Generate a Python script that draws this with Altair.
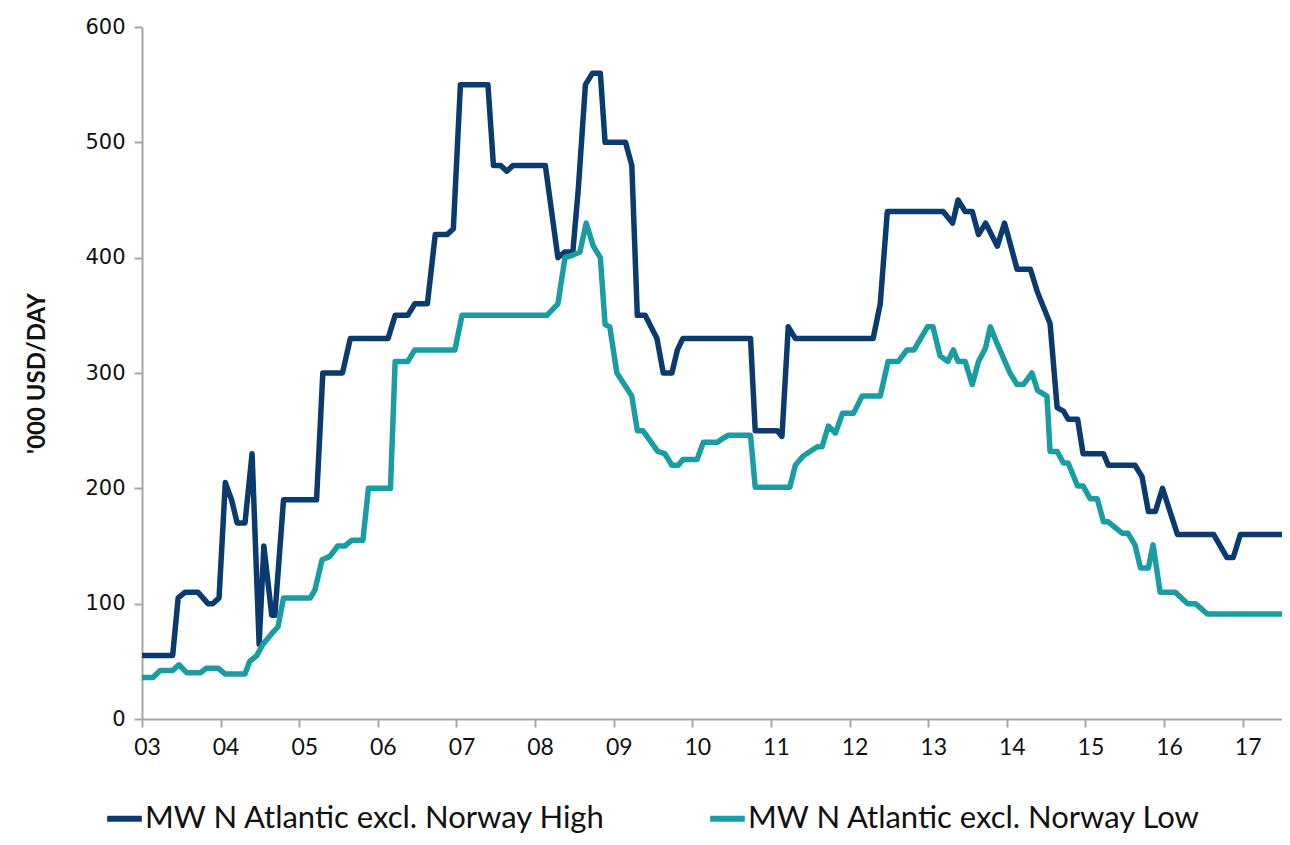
import altair as alt
import pandas as pd

# ---- data (x: decimal year, y: '000 USD/day) ----
high_years = [2003.00, 2003.39, 2003.46, 2003.55, 2003.71, 2003.84, 2003.90, 2003.98,
              2004.06, 2004.14, 2004.21, 2004.31, 2004.40, 2004.49, 2004.55, 2004.65,
              2004.69, 2004.80, 2005.22, 2005.30, 2005.55, 2005.65, 2006.13, 2006.22,
              2006.38, 2006.47, 2006.63, 2006.73, 2006.88, 2006.96, 2007.05, 2007.40,
              2007.47, 2007.56, 2007.64, 2007.72, 2008.13, 2008.29, 2008.38, 2008.48,
              2008.55, 2008.64, 2008.73, 2008.83, 2008.89, 2009.15, 2009.23, 2009.30,
              2009.40, 2009.55, 2009.63, 2009.74, 2009.81, 2009.88, 2010.74, 2010.80,
              2011.08, 2011.14, 2011.22, 2011.31, 2012.30, 2012.39, 2012.48, 2013.19,
              2013.31, 2013.38, 2013.47, 2013.56, 2013.64, 2013.73, 2013.88, 2013.97,
              2014.04, 2014.13, 2014.30, 2014.39, 2014.55, 2014.64, 2014.72, 2014.78,
              2014.90, 2014.97, 2015.23, 2015.29, 2015.63, 2015.72, 2015.80, 2015.89,
              2015.98, 2016.17, 2016.63, 2016.80, 2016.88, 2016.97, 2017.61]
high_values = [55, 55, 105, 110, 110, 100, 100, 105,
               205, 190, 170, 170, 230, 65, 150, 90,
               90, 190, 190, 300, 300, 330, 330, 350,
               350, 360, 360, 420, 420, 425, 550, 550,
               480, 480, 475, 480, 480, 400, 405, 405,
               460, 550, 560, 560, 500, 500, 480, 350,
               350, 330, 300, 300, 320, 330, 330, 250,
               250, 245, 340, 330, 330, 360, 440, 440,
               430, 450, 440, 440, 420, 430, 410, 430,
               413, 390, 390, 370, 343, 270, 267, 260,
               260, 230, 230, 220, 220, 210, 180, 180,
               200, 160, 160, 140, 140, 160, 160]

low_years = [2003.00, 2003.14, 2003.23, 2003.39, 2003.47, 2003.57, 2003.74, 2003.82,
             2003.97, 2004.06, 2004.31, 2004.37, 2004.46, 2004.54, 2004.65, 2004.73,
             2004.80, 2005.14, 2005.20, 2005.29, 2005.39, 2005.49, 2005.58, 2005.67,
             2005.81, 2005.88, 2006.16, 2006.22, 2006.38, 2006.47, 2006.98, 2007.07,
             2008.15, 2008.29, 2008.38, 2008.47, 2008.57, 2008.65, 2008.74, 2008.83,
             2008.89, 2008.95, 2009.04, 2009.23, 2009.30, 2009.37, 2009.56, 2009.65,
             2009.74, 2009.82, 2009.88, 2010.06, 2010.14, 2010.32, 2010.38, 2010.46,
             2010.74, 2010.80, 2011.24, 2011.31, 2011.41, 2011.59, 2011.65, 2011.73,
             2011.82, 2011.91, 2012.05, 2012.16, 2012.39, 2012.49, 2012.62, 2012.73,
             2012.82, 2012.99, 2013.06, 2013.15, 2013.25, 2013.32, 2013.38, 2013.47,
             2013.56, 2013.64, 2013.73, 2013.79, 2013.88, 2014.04, 2014.13, 2014.21,
             2014.32, 2014.39, 2014.51, 2014.55, 2014.64, 2014.72, 2014.78, 2014.90,
             2014.97, 2015.06, 2015.15, 2015.23, 2015.29, 2015.47, 2015.54, 2015.63,
             2015.70, 2015.80, 2015.86, 2015.95, 2016.14, 2016.30, 2016.40, 2016.55,
             2016.63, 2017.61]
low_values = [36, 36, 42, 42, 47, 40, 40, 44,
              44, 39, 39, 50, 55, 65, 74, 80,
              105, 105, 112, 138, 141, 150, 150, 155,
              155, 200, 200, 310, 310, 320, 320, 350,
              350, 360, 400, 402, 405, 430, 410, 400,
              342, 340, 300, 280, 250, 250, 232, 230,
              220, 220, 225, 225, 240, 240, 243, 246,
              246, 201, 201, 220, 228, 236, 236, 254,
              248, 265, 265, 280, 280, 310, 310, 320,
              320, 340, 340, 315, 310, 320, 310, 310,
              290, 310, 322, 340, 325, 300, 290, 290,
              300, 285, 280, 232, 232, 222, 222, 202,
              202, 191, 191, 171, 171, 161, 161, 151,
              131, 131, 151, 110, 110, 100, 100, 91,
              91, 91]

series_names = ["MW N Atlantic excl. Norway High", "MW N Atlantic excl. Norway Low"]
series_colors = ["#0B3A6F", "#1A9CA3"]
x_ticks = list(range(2003, 2018))
y_ticks = [0, 100, 200, 300, 400, 500, 600]

# ---- table ----
rows = []
for i, (x, v) in enumerate(zip(high_years, high_values)):
    rows.append({"year": x, "value": v, "series": series_names[0], "order": i})
for i, (x, v) in enumerate(zip(low_years, low_values)):
    rows.append({"year": x, "value": v, "series": series_names[1], "order": i})
df = pd.DataFrame(rows)

FONT = "Lato"

chart = alt.Chart(df).mark_line(strokeWidth=5.5, strokeJoin="round", strokeCap="round",
                                clip=True).encode(
    x=alt.X("year:Q",
            scale=alt.Scale(domain=[2003, 2017.5], nice=False, zero=False),
            axis=alt.Axis(values=x_ticks, format="d",
                          labelExpr="substring(datum.label, 2)",
                          title=None, labelFontSize=23, labelPadding=9,
                          labelOffset=5, tickSize=8, labelFlush=False,
                          labelFont=FONT)),
    y=alt.Y("value:Q",
            scale=alt.Scale(domain=[0, 600], nice=False),
            axis=alt.Axis(values=y_ticks, title="'000 USD/DAY",
                          labelFont="DejaVu Sans",
                          labelFontSize=21, labelPadding=9, tickSize=8,
                          titleFont=FONT, titleFontSize=24, titleFontWeight="bold",
                          titlePadding=35)),
    color=alt.Color("series:N",
                    scale=alt.Scale(domain=series_names, range=series_colors),
                    legend=alt.Legend(title=None, orient="none", legendX=-38, legendY=771,
                                      direction="horizontal", columns=2,
                                      symbolType="stroke", symbolSize=1200,
                                      symbolStrokeWidth=6, labelFontSize=31,
                                      labelFont=FONT, labelColor="#111111",
                                      labelOffset=0, columnPadding=92,
                                      labelLimit=800)),
    order="order:Q",
).properties(
    width=1140, height=692,
    autosize=alt.AutoSizeParams(type="none"),
    padding={"left": 134, "top": 19, "right": 0, "bottom": 118},
).configure_axis(
    grid=False, domainColor="#a6a6a6", domainWidth=2, tickColor="#a6a6a6",
    tickWidth=2, labelColor="#111111", titleColor="#111111",
).configure_view(stroke=None)

chart.save("out.html", embed_options={"renderer": "svg", "actions": False})
